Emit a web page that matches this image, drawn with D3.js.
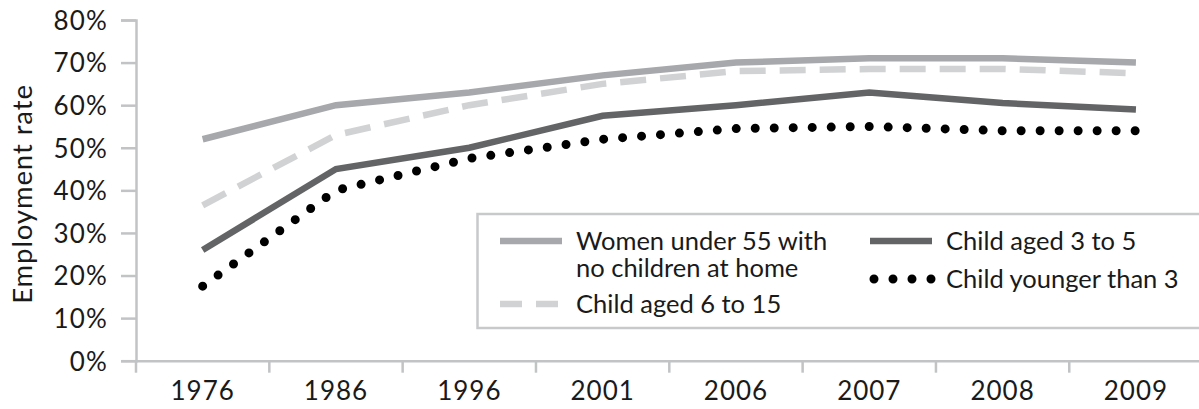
<!DOCTYPE html>
<html><head><meta charset="utf-8">
<script src="https://cdn.jsdelivr.net/npm/d3@7"></script>
<style>
html,body{margin:0;padding:0;background:#fff;}
svg{display:block;font-family:Lato,"Noto Sans",sans-serif;}
</style></head>
<body><svg id="c" width="1199" height="409"></svg>
<script>
const years = ["1976","1986","1996","2001","2006","2007","2008","2009"];
const noChildren = [52, 60, 63, 67, 70, 71, 71, 70];
const age6to15  = [36.5, 53, 60, 65, 68, 68.5, 68.5, 67.5];
const age3to5   = [26, 45, 50, 57.5, 60, 63, 60.5, 59];
const under3    = [17.5, 40, 47.5, 52, 54.5, 55, 54, 54];
const yTicks = [0,10,20,30,40,50,60,70,80];
const seriesNames = ["Women under 55 with|no children at home","Child aged 6 to 15","Child aged 3 to 5","Child younger than 3"];

const svg = d3.select("#c");
const x = d3.scaleBand().domain(years).range([136, 1202.6]);
const y = d3.scaleLinear().domain([0,80]).range([360.7, 20]);
const axisColor = "#c2c3c5";
const fs = 26, lfs = 25.5;

// y axis
const ya = svg.append("g").attr("transform","translate(136,0)")
  .call(d3.axisLeft(y).tickValues(yTicks).tickSize(15).tickPadding(13).tickFormat(d=>d+"%"));
ya.select(".domain").attr("stroke",axisColor).attr("stroke-width",2.5);
ya.selectAll(".tick line").attr("stroke",axisColor).attr("stroke-width",2.5);
ya.selectAll("text").attr("font-size",fs).attr("fill","#1a1a1a").attr("font-family","Lato")
  .attr("dy","0.36em").attr("letter-spacing","1.2px");

// x axis
const xa = svg.append("g").attr("transform","translate(0,360.7)")
  .call(d3.axisBottom(x).tickSize(0).tickPadding(21));
xa.select(".domain").attr("stroke",axisColor).attr("stroke-width",2.5);
xa.selectAll("text").attr("font-size",fs).attr("fill","#1a1a1a").attr("font-family","Lato")
  .attr("letter-spacing","1px");
const bounds = years.map(d=>x(d)).concat([x(years[years.length-1])+x.bandwidth()]);
xa.selectAll(".bt").data(bounds).join("line").attr("class","bt")
  .attr("x1",d=>d).attr("x2",d=>d).attr("y1",0).attr("y2",12)
  .attr("stroke",axisColor).attr("stroke-width",2.5);

svg.append("text").attr("transform","translate(32,194) rotate(-90)")
  .attr("text-anchor","middle").attr("font-size",27.5).attr("letter-spacing","0.9px")
  .attr("fill","#1a1a1a").text("Employment rate");

const line = d3.line().x((d,i)=>x(years[i])+x.bandwidth()/2).y(d=>y(d));
const styles = [
  {data:noChildren, stroke:"#a7a8ab", w:6.5, dash:null, cap:"butt"},
  {data:age6to15, stroke:"#d1d2d4", w:6.5, dash:"26 14", cap:"butt"},
  {data:age3to5, stroke:"#636466", w:6.5, dash:null, cap:"butt"},
  {data:under3, stroke:"#000", w:9, dash:"0 19", cap:"round"}
];
styles.forEach(s=>{
  svg.append("path").datum(s.data).attr("d",line).attr("fill","none")
    .attr("stroke",s.stroke).attr("stroke-width",s.w).attr("stroke-linecap",s.cap)
    .attr("stroke-linejoin","miter").attr("stroke-dasharray",s.dash);
});

// legend
const lg = svg.append("g");
lg.append("rect").attr("x",477.5).attr("y",214).attr("width",760).attr("height",114)
  .attr("fill","#fff").attr("stroke","#c8c9cb").attr("stroke-width",2.5);
const items = [
  {s:styles[0], x:500, y:241, name:seriesNames[0]},
  {s:styles[1], x:500, y:304, name:seriesNames[1]},
  {s:styles[2], x:870, y:241, name:seriesNames[2]},
  {s:styles[3], x:870, y:279, name:seriesNames[3]}
];
items.forEach(it=>{
  const s = it.s;
  if (s.cap==="round") {
    lg.append("line").attr("x1",it.x+4).attr("x2",it.x+62).attr("y1",it.y).attr("y2",it.y)
      .attr("stroke",s.stroke).attr("stroke-width",s.w).attr("stroke-linecap","round").attr("stroke-dasharray","0 19");
  } else {
    lg.append("line").attr("x1",it.x).attr("x2",it.x+62).attr("y1",it.y).attr("y2",it.y)
      .attr("stroke",s.stroke).attr("stroke-width",s.w).attr("stroke-dasharray",s.dash? "22 14":null);
  }
  const lines = it.name.split("|");
  const t = lg.append("text").attr("x",it.x+76).attr("y",it.y).attr("font-size",lfs).attr("fill","#1a1a1a");
  lines.forEach((l,i)=>t.append("tspan").attr("x",it.x+76).attr("dy",i===0?"0.35em":"1.06em").text(l));
});
</script></body></html>
